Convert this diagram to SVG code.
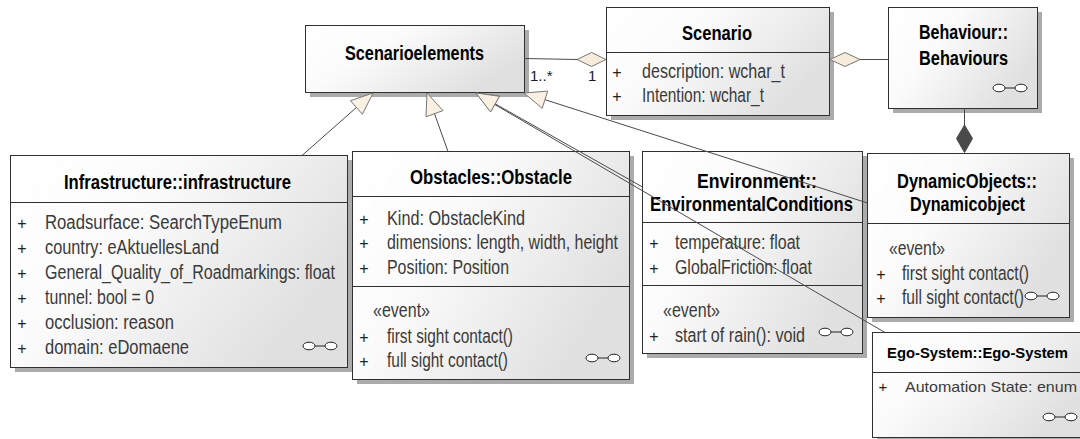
<svg xmlns="http://www.w3.org/2000/svg" xmlns:xlink="http://www.w3.org/1999/xlink" width="1080" height="439" viewBox="0 0 1080 439">
  <defs>
    <linearGradient id="boxFill" x1="0" y1="0" x2="1" y2="0.5">
      <stop offset="0" stop-color="#ffffff"/>
      <stop offset="0.4" stop-color="#fbfbfb"/>
      <stop offset="1" stop-color="#e0e0e0"/>
    </linearGradient>
    <!-- composite-element marker (two linked rings) -->
    <g id="link">
      <line x1="-5" y1="0" x2="5" y2="0" stroke="#222" stroke-width="1"/>
      <ellipse cx="-11" cy="0" rx="6" ry="3.8" fill="#fff" stroke="#222" stroke-width="1"/>
      <ellipse cx="11" cy="0" rx="6" ry="3.8" fill="#fff" stroke="#222" stroke-width="1"/>
    </g>
  </defs>
  <style>
    .shadow { fill: #ababab; }
    .box { fill: url(#boxFill); stroke: #303030; stroke-width: 1; }
    .sep { stroke: #303030; stroke-width: 1; }
    .title { font-family: "Liberation Sans", Arial, sans-serif; font-weight: bold; font-size: 20px; fill: #000; }
    .attr { font-family: "Liberation Sans", Arial, sans-serif; font-size: 20px; fill: #3a3a3a; }
    .vis { font-family: "Liberation Sans", Arial, sans-serif; font-size: 16px; fill: #222; text-anchor: middle; }
    .mult { font-family: "Liberation Sans", Arial, sans-serif; font-size: 15px; fill: #1a1a2a; }
    .egoT { font-family: "Liberation Sans", Arial, sans-serif; font-weight: bold; font-size: 15px; fill: #000; }
    .egoA { font-family: "Liberation Sans", Arial, sans-serif; font-size: 14.5px; fill: #3a3a3a; }
    .conn { stroke: #4a4a4a; stroke-width: 1; fill: none; }
    .gen { fill: #fbf1e2; stroke: #777; stroke-width: 1; }
    .agg { fill: #f7ecdc; stroke: #777; stroke-width: 1; }
    .comp { fill: #4a4a4a; stroke: #4a4a4a; stroke-width: 1; }
  </style>

  <rect width="1080" height="439" fill="#ffffff"/>

  <!-- Scenarioelements -->
  <g id="scenarioelements">
    <rect class="shadow" x="310" y="30" width="219" height="67"/>
    <rect class="box" x="305.5" y="25.5" width="219" height="67"/>
    <text class="title" x="345" y="60" textLength="139" lengthAdjust="spacingAndGlyphs">Scenarioelements</text>
  </g>

  <!-- Scenario -->
  <g id="scenario">
    <rect class="shadow" x="611" y="12" width="223" height="108"/>
    <rect class="box" x="606.5" y="7.5" width="223" height="108"/>
    <line class="sep" x1="606.5" y1="52.5" x2="829.5" y2="52.5"/>
    <text class="title" x="682" y="40" textLength="70" lengthAdjust="spacingAndGlyphs">Scenario</text>
    <text class="vis" x="617" y="78">+</text>
    <text class="attr" x="642" y="78" textLength="143" lengthAdjust="spacingAndGlyphs">description: wchar_t</text>
    <text class="vis" x="617" y="102">+</text>
    <text class="attr" x="642" y="102" textLength="122" lengthAdjust="spacingAndGlyphs">Intention: wchar_t</text>
  </g>

  <!-- Behaviour::Behaviours -->
  <g id="behaviours">
    <rect class="shadow" x="893" y="12" width="149" height="101"/>
    <rect class="box" x="888.5" y="7.5" width="149" height="101"/>
    <text class="title" x="919" y="39" textLength="89" lengthAdjust="spacingAndGlyphs">Behaviour::</text>
    <text class="title" x="919" y="65" textLength="89" lengthAdjust="spacingAndGlyphs">Behaviours</text>
    <use xlink:href="#link" x="1010" y="88"/>
  </g>

  <!-- Infrastructure::infrastructure -->
  <g id="infrastructure">
    <rect class="shadow" x="15" y="160" width="337" height="212"/>
    <rect class="box" x="10.5" y="155.5" width="337" height="212"/>
    <line class="sep" x1="10.5" y1="202.5" x2="347.5" y2="202.5"/>
    <text class="title" x="64" y="189" textLength="227" lengthAdjust="spacingAndGlyphs">Infrastructure::infrastructure</text>
    <text class="vis" x="22" y="229">+</text>
    <text class="attr" x="45" y="229" textLength="237" lengthAdjust="spacingAndGlyphs">Roadsurface: SearchTypeEnum</text>
    <text class="vis" x="22" y="254">+</text>
    <text class="attr" x="45" y="254" textLength="174" lengthAdjust="spacingAndGlyphs">country: eAktuellesLand</text>
    <text class="vis" x="22" y="279">+</text>
    <text class="attr" x="45" y="279" textLength="290" lengthAdjust="spacingAndGlyphs">General_Quality_of_Roadmarkings: float</text>
    <text class="vis" x="22" y="304">+</text>
    <text class="attr" x="45" y="304" textLength="109" lengthAdjust="spacingAndGlyphs">tunnel: bool = 0</text>
    <text class="vis" x="22" y="329">+</text>
    <text class="attr" x="45" y="329" textLength="129" lengthAdjust="spacingAndGlyphs">occlusion: reason</text>
    <text class="vis" x="22" y="354">+</text>
    <text class="attr" x="45" y="354" textLength="144" lengthAdjust="spacingAndGlyphs">domain: eDomaene</text>
    <use xlink:href="#link" x="320" y="346"/>
  </g>

  <!-- Obstacles::Obstacle -->
  <g id="obstacle">
    <rect class="shadow" x="357" y="156" width="277" height="228"/>
    <rect class="box" x="352.5" y="151.5" width="277" height="228"/>
    <line class="sep" x1="352.5" y1="196.5" x2="629.5" y2="196.5"/>
    <line class="sep" x1="352.5" y1="286.5" x2="629.5" y2="286.5"/>
    <text class="title" x="410" y="184" textLength="162" lengthAdjust="spacingAndGlyphs">Obstacles::Obstacle</text>
    <text class="vis" x="364" y="225">+</text>
    <text class="attr" x="387" y="225" textLength="138" lengthAdjust="spacingAndGlyphs">Kind: ObstacleKind</text>
    <text class="vis" x="364" y="249">+</text>
    <text class="attr" x="387" y="249" textLength="231" lengthAdjust="spacingAndGlyphs">dimensions: length, width, height</text>
    <text class="vis" x="364" y="274">+</text>
    <text class="attr" x="387" y="274" textLength="122" lengthAdjust="spacingAndGlyphs">Position: Position</text>
    <text class="attr" x="373" y="317" textLength="57" lengthAdjust="spacingAndGlyphs">«event»</text>
    <text class="vis" x="364" y="343">+</text>
    <text class="attr" x="387" y="343" textLength="126" lengthAdjust="spacingAndGlyphs">first sight contact()</text>
    <text class="vis" x="364" y="367">+</text>
    <text class="attr" x="387" y="367" textLength="121" lengthAdjust="spacingAndGlyphs">full sight contact()</text>
    <use xlink:href="#link" x="603" y="358"/>
  </g>

  <!-- Environment::EnvironmentalConditions -->
  <g id="environment">
    <rect class="shadow" x="647" y="156" width="220" height="202"/>
    <rect class="box" x="642.5" y="151.5" width="220" height="202"/>
    <line class="sep" x1="642.5" y1="222.5" x2="862.5" y2="222.5"/>
    <line class="sep" x1="642.5" y1="285.5" x2="862.5" y2="285.5"/>
    <text class="title" x="697" y="188" textLength="120" lengthAdjust="spacingAndGlyphs">Environment::</text>
    <text class="title" x="650" y="211" textLength="203" lengthAdjust="spacingAndGlyphs">EnvironmentalConditions</text>
    <text class="vis" x="654" y="249">+</text>
    <text class="attr" x="675" y="249" textLength="125" lengthAdjust="spacingAndGlyphs">temperature: float</text>
    <text class="vis" x="654" y="274">+</text>
    <text class="attr" x="675" y="274" textLength="137" lengthAdjust="spacingAndGlyphs">GlobalFriction: float</text>
    <text class="attr" x="663" y="317" textLength="57" lengthAdjust="spacingAndGlyphs">«event»</text>
    <text class="vis" x="654" y="342">+</text>
    <text class="attr" x="675" y="342" textLength="130" lengthAdjust="spacingAndGlyphs">start of rain(): void</text>
    <use xlink:href="#link" x="836" y="332"/>
  </g>

  <!-- DynamicObjects::Dynamicobject -->
  <g id="dynamicobject">
    <rect class="shadow" x="872" y="158" width="202" height="164"/>
    <rect class="box" x="867.5" y="153.5" width="202" height="164"/>
    <line class="sep" x1="867.5" y1="223.5" x2="1069.5" y2="223.5"/>
    <text class="title" x="897" y="188" textLength="140" lengthAdjust="spacingAndGlyphs">DynamicObjects::</text>
    <text class="title" x="910" y="211" textLength="115" lengthAdjust="spacingAndGlyphs">Dynamicobject</text>
    <text class="attr" x="889" y="255" textLength="56" lengthAdjust="spacingAndGlyphs">«event»</text>
    <text class="vis" x="881" y="280">+</text>
    <text class="attr" x="902" y="280" textLength="127" lengthAdjust="spacingAndGlyphs">first sight contact()</text>
    <text class="vis" x="881" y="304">+</text>
    <text class="attr" x="902" y="304" textLength="122" lengthAdjust="spacingAndGlyphs">full sight contact()</text>
    <use xlink:href="#link" x="1042" y="296"/>
  </g>

  <!-- Ego-System::Ego-System -->
  <g id="egosystem">
    <rect class="shadow" x="877" y="337" width="220" height="106"/>
    <rect class="box" x="872.5" y="332.5" width="220" height="105"/>
    <line class="sep" x1="872.5" y1="372.5" x2="1092" y2="372.5"/>
    <text class="egoT" x="887" y="358" textLength="181" lengthAdjust="spacingAndGlyphs">Ego-System::Ego-System</text>
    <text class="vis" x="883" y="392" style="font-size:15px">+</text>
    <text class="egoA" x="905" y="392" textLength="172" lengthAdjust="spacingAndGlyphs">Automation State: enum</text>
    <use xlink:href="#link" x="1060" y="417"/>
  </g>

  <!-- Connectors -->
  <g id="connectors">
    <!-- aggregation Scenario o- Scenarioelements -->
    <line class="conn" x1="524.5" y1="58.5" x2="577" y2="59.5"/>
    <polygon class="agg" points="577,59.5 591.5,52.5 606,59.5 591.5,66.5"/>
    <text class="mult" x="530" y="81">1..*</text>
    <text class="mult" x="588" y="81">1</text>

    <!-- aggregation Scenario o- Behaviours -->
    <polygon class="agg" points="830,59.5 845,52.5 860,59.5 845,66.5"/>
    <line class="conn" x1="860" y1="59.5" x2="888.5" y2="59.5"/>

    <!-- composition Behaviours *- Dynamicobject -->
    <line class="conn" x1="964.5" y1="108.5" x2="964.5" y2="125"/>
    <polygon class="comp" points="964.5,125 972.5,138.5 964.5,152.5 956.5,138.5"/>

    <!-- generalizations to Scenarioelements -->
    <line class="conn" x1="356.4" y1="107.5" x2="302" y2="155.5"/>
    <polygon class="gen" points="373,93 362.4,114.3 350.5,100.7"/>

    <line class="conn" x1="434.5" y1="113.7" x2="448" y2="151.5"/>
    <polygon class="gen" points="427,93 443,110.6 426,116.8"/>

    <line class="conn" x1="495.1" y1="103.8" x2="642.5" y2="187"/>
    <polygon class="gen" points="476,93 499.6,96 490.7,111.7"/>

    <line class="conn" x1="495" y1="104.6" x2="885" y2="332.5"/>
    <polygon class="gen" points="476,93 499.5,96.3 490.5,111.9"/>

    <line class="conn" x1="545" y1="99.7" x2="867.5" y2="203"/>
    <polygon class="gen" points="524,93 547.7,91.1 542.2,108.3"/>
  </g>
</svg>
